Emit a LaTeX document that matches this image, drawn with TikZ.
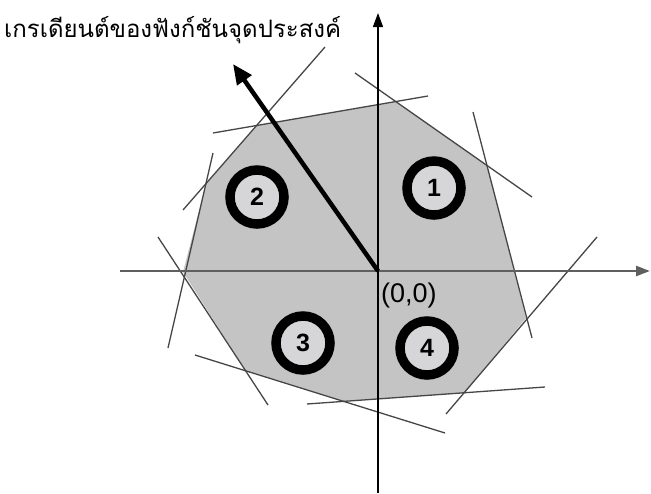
\documentclass[tikz,border=0pt]{standalone}
\usepackage{fontspec}
\setmainfont{Liberation Sans}
\newfontfamily\thaifont[Script=Thai]{Loma}
\usetikzlibrary{arrows.meta}
\definecolor{regionfill}{RGB}{196,196,196}
\definecolor{ringfill}{RGB}{214,214,216}
\definecolor{thinc}{RGB}{70,70,70}
\definecolor{haxis}{RGB}{95,95,95}
\begin{document}
\begin{tikzpicture}[x=1pt,y=-1pt,
  thinline/.style={draw=thinc, line width=1.3pt},
  ring/.style={circle, draw=black, line width=9.5pt, minimum size=54pt, inner sep=0pt, fill=ringfill, font=\fontsize{25}{25}\selectfont\bfseries},
  bigarrow/.style={draw=black, line width=4.5pt, -{Triangle[length=20pt,width=17pt]}},
  axisarrow/.style={-{Triangle[length=14pt,width=10pt]}}]
\useasboundingbox (0,0) rectangle (651,493);
\fill[regionfill] (183,272) -- (206,184) -- (258,125) -- (396,102) -- (487,165) -- (526,318) -- (464,393) -- (344,401) -- (246,371) -- cycle;
% constraint lines
\draw[thinline] (213,153) -- (168,348);
\draw[thinline] (183,210) -- (325,47);
\draw[thinline] (213,133) -- (428,96);
\draw[thinline] (355,73) -- (532,197);
\draw[thinline] (473,112) -- (532,338);
\draw[thinline] (597,237) -- (446,414);
\draw[thinline] (307,404) -- (545,387);
\draw[thinline] (195,355) -- (445,433);
\draw[thinline] (158,237) -- (268,405);
% axes
\coordinate (O) at (378,271);
\coordinate (xl) at (120,271);
\coordinate (xr) at (650,271);
\coordinate (yb) at (378,493);
\coordinate (yt) at (378,13);
\draw[haxis, line width=2.5pt, axisarrow] (xl) -- (xr);
\draw[black, line width=1.3pt, axisarrow] (yb) -- (yt);
% circles
\node[ring] (c1) at (434,188) {1};
\node[ring] (c2) at (257,197) {2};
\node[ring] (c3) at (303,343) {3};
\node[ring] (c4) at (427,348) {4};
% gradient arrow
\coordinate (g) at (233,64);
\draw[bigarrow] (O) -- (g);
% labels
\node[anchor=base west, inner sep=0pt, font=\fontsize{27}{30}\selectfont] (orig) at (381,302) {(0,0)};
\node[anchor=base west, inner sep=0pt, font=\thaifont\fontsize{24}{28}\selectfont] (title) at (4,37) {เกรเดียนต์ของฟังก์ชันจุดประสงค์};
\end{tikzpicture}
\end{document}
